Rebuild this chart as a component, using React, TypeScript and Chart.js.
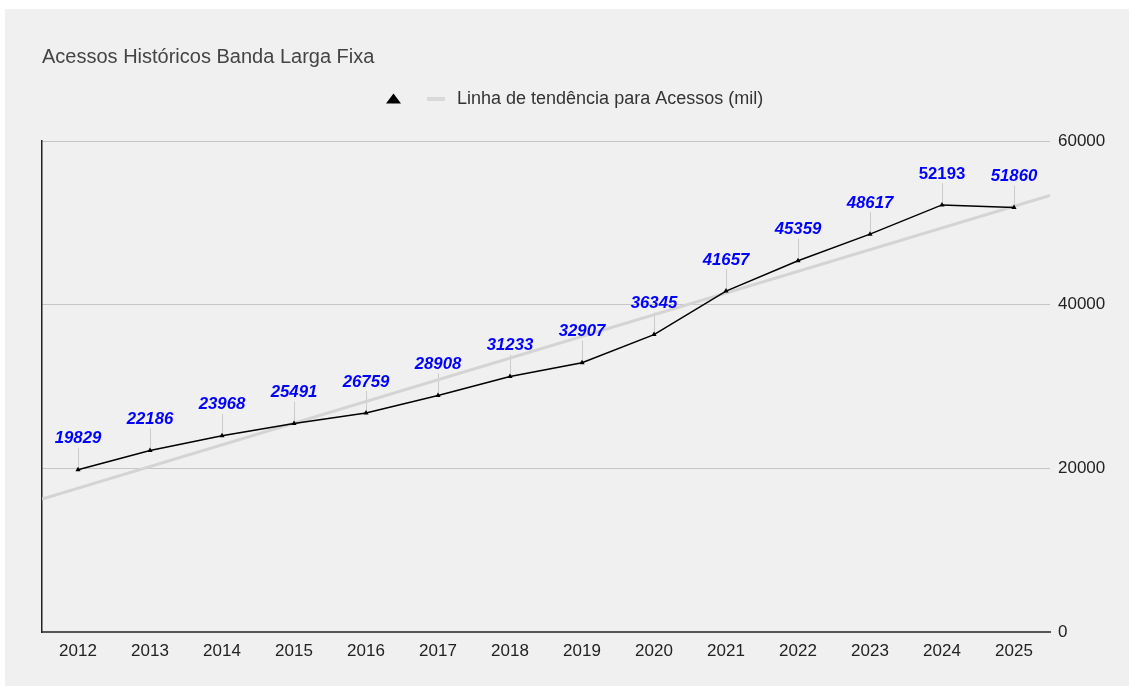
import React, { useEffect, useRef } from 'react';
import { Chart, registerables } from 'chart.js';

Chart.register(...registerables);

const years = ['2012', '2013', '2014', '2015', '2016', '2017', '2018', '2019', '2020', '2021', '2022', '2023', '2024', '2025'];
const acessos = [19829, 22186, 23968, 25491, 26759, 28908, 31233, 32907, 36345, 41657, 45359, 48617, 52193, 51860];
const trendX = [-0.5, 13.5];
const trendY = [16250, 53350];
const yTicks = [0, 20000, 40000, 60000];
const titleText = 'Acessos Históricos Banda Larga Fixa';
const seriesName = '';
const legendText = 'Linha de tendência para Acessos (mil)';
const uprightLabelYears = ['2024'];

const FONT = "'Liberation Sans', Arial, Helvetica, sans-serif";

const pointLabelsPlugin = {
  id: 'pointLabels',
  beforeDatasetsDraw(chart: any) {
    const meta = chart.getDatasetMeta(0);
    const ctx = chart.ctx;
    ctx.save();
    ctx.strokeStyle = '#cbcbcb';
    ctx.lineWidth = 1;
    meta.data.forEach((pt: any) => {
      const x = Math.round(pt.x) + 0.5;
      ctx.beginPath();
      ctx.moveTo(x, pt.y - 22);
      ctx.lineTo(x, pt.y);
      ctx.stroke();
    });
    ctx.restore();
  },
  afterDatasetsDraw(chart: any) {
    const meta = chart.getDatasetMeta(0);
    const ctx = chart.ctx;
    ctx.save();
    ctx.fillStyle = '#0000ff';
    ctx.textAlign = 'center';
    ctx.textBaseline = 'middle';
    meta.data.forEach((pt: any, i: number) => {
      const italic = !uprightLabelYears.includes(years[i]);
      ctx.font = `${italic ? 'italic ' : ''}bold 16.8px ${FONT}`;
      ctx.fillText(String(acessos[i]), pt.x, pt.y - 31);
    });
    ctx.restore();
  },
};

const customLegendPlugin = {
  id: 'customLegend',
  afterDraw(chart: any) {
    const ctx = chart.ctx;
    const cy = 90;
    ctx.save();
    // triangle marker for the data series
    ctx.fillStyle = '#000000';
    ctx.beginPath();
    ctx.moveTo(388.5, cy - 5.5);
    ctx.lineTo(396, cy + 4.5);
    ctx.lineTo(381, cy + 4.5);
    ctx.closePath();
    ctx.fill();
    if (seriesName) {
      ctx.fillText(seriesName, 400, cy);
    }
    // trend line sample
    ctx.strokeStyle = '#d9d9d9';
    ctx.lineWidth = 4;
    ctx.beginPath();
    ctx.moveTo(422, cy);
    ctx.lineTo(440, cy);
    ctx.stroke();
    ctx.fillStyle = '#333333';
    ctx.font = `18px ${FONT}`;
    ctx.textAlign = 'left';
    ctx.textBaseline = 'middle';
    ctx.fillText(legendText, 452, cy);
    ctx.restore();
  },
};

export default function App() {
  const canvasRef = useRef<HTMLCanvasElement | null>(null);

  useEffect(() => {
    if (!canvasRef.current) return;
    const chart = new Chart(canvasRef.current, {
      type: 'line',
      data: {
        labels: years,
        datasets: [
          {
            label: seriesName,
            data: acessos,
            borderColor: '#000000',
            backgroundColor: '#000000',
            borderWidth: 1.5,
            pointStyle: 'triangle',
            pointRadius: 3,
            pointBackgroundColor: '#000000',
            pointBorderColor: '#000000',
            pointBorderWidth: 0,
            tension: 0,
            xAxisID: 'x',
            yAxisID: 'y',
          },
          {
            label: legendText,
            data: trendX.map((x, i) => ({ x, y: trendY[i] })),
            borderColor: '#d4d4d4',
            borderWidth: 3,
            pointRadius: 0,
            tension: 0,
            xAxisID: 'xTrend',
            yAxisID: 'y',
          },
        ],
      },
      options: {
        animation: false,
        responsive: true,
        maintainAspectRatio: false,
        layout: { padding: { left: 37, right: 0, top: 0, bottom: 0 } },
        plugins: {
          legend: { display: false },
          tooltip: { enabled: false },
          title: {
            display: true,
            text: titleText,
            align: 'start',
            color: '#444444',
            font: { family: FONT, size: 20, weight: 'normal' },
            padding: { top: 36.5, bottom: 71.5 },
          },
        },
        scales: {
          x: {
            type: 'category',
            offset: true,
            grid: { display: false, drawTicks: false },
            border: { display: true, color: '#555555', width: 2 },
            ticks: {
              color: '#222222',
              font: { family: FONT, size: 17 },
              padding: 9,
              maxRotation: 0,
              autoSkip: false,
            },
            afterFit(scale: any) {
              scale.height = 54;
            },
          },
          xTrend: {
            type: 'linear',
            display: false,
            min: trendX[0],
            max: trendX[trendX.length - 1],
          },
          y: {
            type: 'linear',
            position: 'right',
            min: yTicks[0],
            max: yTicks[yTicks.length - 1],
            grid: { color: '#c6c6c6', lineWidth: 1, drawTicks: false },
            border: { display: false },
            ticks: {
              color: '#222222',
              font: { family: FONT, size: 17 },
              padding: 8,
              callback: (v: any) => String(v),
            },
            afterBuildTicks(scale: any) {
              scale.ticks = yTicks.map((v) => ({ value: v }));
            },
            afterFit(scale: any) {
              scale.width = 79;
            },
          },
          yLeft: {
            type: 'linear',
            position: 'left',
            display: true,
            grid: { display: false, drawTicks: false },
            border: { display: true, color: '#222222', width: 1.5 },
            ticks: { display: false },
            afterFit(scale: any) {
              scale.width = 0;
            },
          },
        },
      },
      plugins: [pointLabelsPlugin, customLegendPlugin],
    } as any);
    return () => chart.destroy();
  }, []);

  return (
    <div
      style={{
        position: 'absolute',
        left: 5,
        top: 9,
        width: 1124,
        height: 677,
        background: '#f0f0f0',
      }}
    >
      <canvas ref={canvasRef} />
    </div>
  );
}
